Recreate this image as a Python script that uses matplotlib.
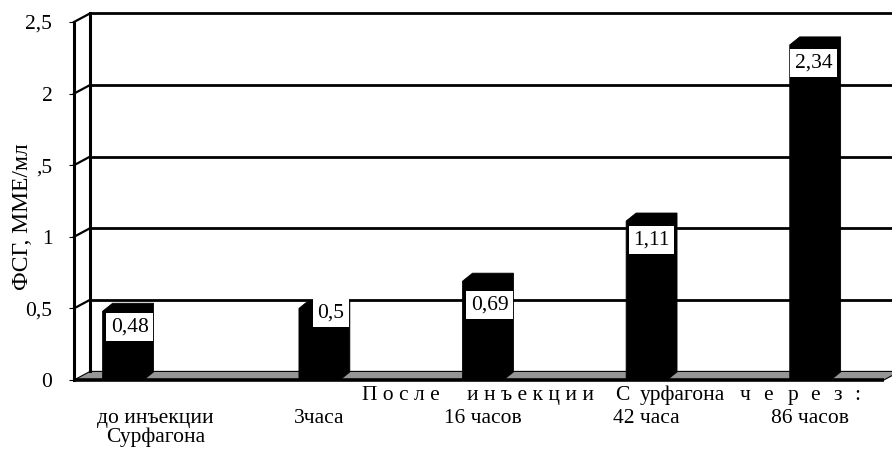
import numpy as np
import matplotlib
matplotlib.use('Agg')
import matplotlib.pyplot as plt
from matplotlib.patches import Polygon

# --- data -------------------------------------------------------------
categories = ['до инъекции\nСурфагона', '3часа', '16 часов', '42 часа', '86 часов']
fsh_values = [0.48, 0.50, 0.69, 1.11, 2.34]
value_labels = ['0,48', '0,5', '0,69', '1,11', '2,34']
y_ticks = [0, 0.5, 1, 1.5, 2, 2.5]
y_tick_labels = ['0', '0,5', '1', ',5', '2', '2,5']
y_title = 'ФСГ, ММЕ/мл'
caption_parts = ['П о с л е', 'и н ъ е к ц и и', 'С', 'урфагона',
                 'ч', 'е', 'р', 'е', 'з', ':']

# --- layout / style ---------------------------------------------------
bar_shift = [-0.20, 0.0, 0.0, 0.0, 0.0]        # horizontal shift of each column
label_dx = [0.04, 0.07, 0.04, 0.03, 0.02]      # value-box horizontal offset
label_drop = [0.11, 0.03, 0.166, 0.132, 0.126]  # value-box drop below the top
caption_x = [1.26, 1.90, 2.81, 2.96, 3.57, 3.71, 3.86, 4.00, 4.14, 4.27]
caption_y = -0.14

front_w = 0.25            # column front-face width (category units)
bar_dx, bar_dy = 0.061, 0.056
wall_dx, wall_dy = 0.098, 0.06
floor_end = 4.45
floor_gray = '#959595'
fs = 15.5

plt.rcParams['font.family'] = ['Liberation Serif', 'DejaVu Serif']

fig = plt.figure(figsize=(8.92, 4.5), dpi=100)
ax = fig.add_axes([74 / 892, 70 / 450, 818 / 892, 358 / 450])
ax.set_xlim(-0.5, 4.5)
ax.set_ylim(0, 2.5)

for s in ['top', 'right', 'bottom']:
    ax.spines[s].set_visible(False)
ax.spines['left'].set_linewidth(2.2)
ax.spines['left'].set_zorder(5)

ax.set_yticks(y_ticks)
ax.set_yticklabels(y_tick_labels)
ax.tick_params(axis='y', length=3.6, width=0.8, pad=12, labelsize=fs)
ax.set_xticks(np.arange(len(categories)))
ax.set_xticklabels(categories, linespacing=0.95)
ax.tick_params(axis='x', length=0, pad=21, labelsize=fs)

ax.set_ylabel(y_title, fontsize=17, va='center')
ax.yaxis.set_label_coords(-0.0625, 0.455)

# floor
floor = Polygon([(-0.5, 0), (floor_end, 0), (floor_end + wall_dx, wall_dy),
                 (-0.5 + wall_dx, wall_dy)], closed=True,
                facecolor=floor_gray, edgecolor='black', lw=0.8,
                zorder=1, clip_on=False)
ax.add_patch(floor)
ax.plot([-0.5, floor_end], [0, 0], color='black', lw=2.6, zorder=4,
        clip_on=False, solid_capstyle='butt')

# back wall and side wall grid
x_back = -0.5 + wall_dx
ax.plot([x_back, x_back], [wall_dy, y_ticks[-1] + wall_dy], color='black',
        lw=2.2, zorder=2, clip_on=False)
for v in y_ticks[1:]:
    ax.plot([x_back, 4.7], [v + wall_dy, v + wall_dy], color='black',
            lw=2.0, zorder=1.5, clip_on=False)
    ax.plot([-0.5, x_back], [v, v + wall_dy], color='black', lw=1.6,
            zorder=2, clip_on=False)

# columns
for i, v in enumerate(fsh_values):
    x0 = i + bar_shift[i] - front_w / 2
    x1 = x0 + front_w
    pts = [(x0, 0), (x0, v), (x0 + bar_dx, v + bar_dy), (x1 + bar_dx, v + bar_dy),
           (x1 + bar_dx, bar_dy), (x1, 0)]
    ax.add_patch(Polygon(pts, closed=True, facecolor='black', edgecolor='black',
                         lw=0.6, zorder=3, clip_on=False))
    ax.text(i + bar_shift[i] + label_dx[i], v - label_drop[i], value_labels[i],
            ha='center', va='center', fontsize=fs, zorder=6,
            bbox=dict(boxstyle='square,pad=0.22', facecolor='white',
                      edgecolor='none'))

# caption between the floor and category names
for x, w in zip(caption_x, caption_parts):
    ax.text(x, caption_y, w, ha='left', va='baseline', fontsize=fs,
            clip_on=False)

fig.savefig('out.png', dpi=100)
